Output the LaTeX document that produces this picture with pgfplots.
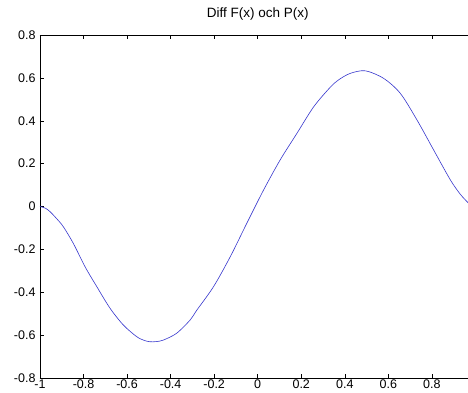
\documentclass[border=0pt]{standalone}
\usepackage{fontspec}
\setmainfont{Liberation Sans}
\usepackage{pgfplots}
\pgfplotsset{compat=1.18}
\definecolor{mblue}{RGB}{55,55,205}
\begin{document}
\begin{tikzpicture}
\clip (-40pt,-14pt) rectangle (428pt,378pt);
\begin{axis}[
  scale only axis,
  width=428pt, height=343pt,
  xmin=-1, xmax=0.966,
  ymin=-0.8, ymax=0.8,
  axis x line=box, axis y line=left,
  x axis line style={-}, y axis line style={-},
  xtick={-1,-0.8,-0.6,-0.4,-0.2,0,0.2,0.4,0.6,0.8},
  ytick={-0.8,-0.6,-0.4,-0.2,0,0.2,0.4,0.6,0.8},
  xticklabels={-1,-0.8,-0.6,-0.4,-0.2,0,0.2,0.4,0.6,0.8},
  yticklabels={-0.8,-0.6,-0.4,-0.2,0,0.2,0.4,0.6,0.8},
  tick align=inside,
  major tick length=4pt,
  tick style={black, line width=0.5pt},
  axis line style={black, line width=0.6pt},
  ticklabel style={font=\fontsize{12.5}{14}\selectfont},
  xticklabel style={yshift=0pt, inner ysep=1.5pt},
  yticklabel style={xshift=-1pt},
  title={Diff F(x) och P(x)},
  title style={font=\fontsize{13.5}{15}\selectfont, at={(rel axis cs:0.5086,1)}, anchor=south, yshift=5pt},
]
\addplot[mblue, line width=0.6pt, smooth, tension=0.5] coordinates {
(-1.000,0.000) (-0.975,-0.008) (-0.954,-0.024) (-0.925,-0.055) (-0.893,-0.094)
(-0.847,-0.172) (-0.793,-0.281) (-0.739,-0.374) (-0.678,-0.475) (-0.617,-0.553)
(-0.556,-0.607) (-0.520,-0.625) (-0.494,-0.631) (-0.465,-0.630) (-0.433,-0.623)
(-0.372,-0.591) (-0.310,-0.529) (-0.280,-0.484) (-0.203,-0.374) (-0.126,-0.234)
(-0.050,-0.078) (0.027,0.077) (0.103,0.217) (0.180,0.341) (0.257,0.465)
(0.333,0.556) (0.372,0.591) (0.425,0.621) (0.494,0.633) (0.578,0.598)
(0.655,0.528) (0.732,0.403) (0.808,0.264) (0.885,0.124) (0.930,0.058)
(0.962,0.022) (0.966,0.018)
};
\end{axis}
\end{tikzpicture}
\end{document}
